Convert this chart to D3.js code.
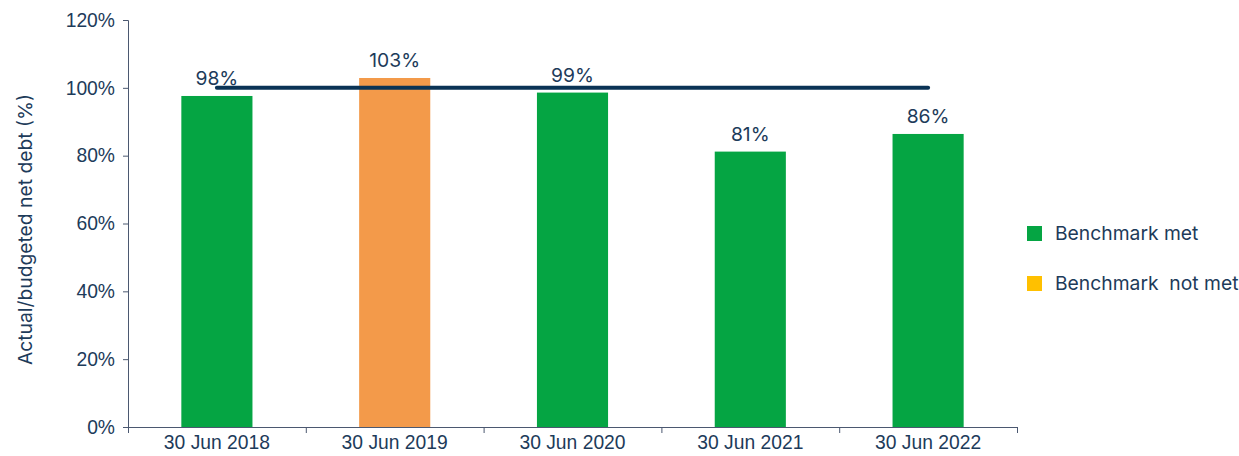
<!DOCTYPE html>
<html>
<head>
<meta charset="utf-8">
<script src="https://cdn.jsdelivr.net/npm/d3@7"></script>
<style>
  body { margin: 0; background: #fff; }
  svg { font-family: "Inter", sans-serif; }
</style>
</head>
<body>
<div id="chart"></div>
<script>
// chart data
const categories = ["30 Jun 2018", "30 Jun 2019", "30 Jun 2020", "30 Jun 2021", "30 Jun 2022"];
const values = [97.6, 102.9, 98.6, 81.2, 86.4];
const metBenchmark = [true, false, true, true, true];
const benchmark = 100;
const yTicks = [0, 20, 40, 60, 80, 100, 120];
const legendItems = ["Benchmark met", "Benchmark  not met"];

const W = 1239, H = 456;
const margin = { top: 20, right: 222, bottom: 29, left: 128 };
const width = W - margin.left - margin.right;
const height = H - margin.top - margin.bottom;
const fs = 19.3;

const navy = "#1d3b5a";
const axisCol = "#4b5870";

const svg = d3.select("#chart").append("svg")
    .attr("width", W)
    .attr("height", H);

const g = svg.append("g")
    .attr("transform", `translate(${margin.left},${margin.top})`);

const x = d3.scaleBand()
    .domain(categories)
    .range([0, width])
    .paddingInner(0.6)
    .paddingOuter(0.3);

const y = d3.scaleLinear()
    .domain([0, 120])
    .range([height, 0]);

// y axis
const yAxis = g.append("g")
    .call(d3.axisLeft(y).tickValues(yTicks).tickFormat(d => d + "%").tickSize(5).tickPadding(8));
yAxis.select(".domain").attr("stroke", axisCol);
yAxis.selectAll(".tick line").attr("stroke", axisCol);
yAxis.selectAll("text").attr("fill", navy).attr("font-size", fs);

// x axis: labels in the middle of each band, ticks at the band edges
const edge = d3.scaleLinear().domain([0, categories.length]).range([0, width]);
const xEdges = g.append("g")
    .attr("transform", `translate(0,${height})`)
    .call(d3.axisBottom(edge).tickValues(d3.range(categories.length + 1)).tickFormat("").tickSize(6).tickSizeOuter(0));
xEdges.select(".domain").attr("stroke", axisCol);
xEdges.selectAll(".tick line").attr("stroke", axisCol);

const xLabels = g.append("g")
    .attr("transform", `translate(0,${height})`)
    .call(d3.axisBottom(x).tickSize(0).tickPadding(8));
xLabels.select(".domain").remove();
xLabels.selectAll("text").attr("fill", navy).attr("font-size", fs);

// y axis title
svg.append("text")
    .attr("transform", `translate(32,${margin.top + height / 2 + 6}) rotate(-90)`)
    .attr("text-anchor", "middle")
    .attr("fill", navy)
    .attr("font-size", fs)
    .text("Actual/budgeted net debt (%)");

// bars
g.selectAll(".bar")
    .data(values)
    .join("rect")
    .attr("class", "bar")
    .attr("x", (d, i) => x(categories[i]))
    .attr("y", d => y(d))
    .attr("width", x.bandwidth())
    .attr("height", d => y(0) - y(d))
    .attr("fill", (d, i) => metBenchmark[i] ? "#05a543" : "#f39a4a");

// bar labels
g.selectAll(".lbl")
    .data(values)
    .join("text")
    .attr("class", "lbl")
    .attr("x", (d, i) => x(categories[i]) + x.bandwidth() / 2)
    .attr("y", d => y(d) - 11)
    .attr("text-anchor", "middle")
    .attr("fill", navy)
    .attr("font-size", fs)
    .text(d => Math.round(d) + "%");

// benchmark line
const c0 = x(categories[0]) + x.bandwidth() / 2;
const c1 = x(categories[categories.length - 1]) + x.bandwidth() / 2;
g.append("line")
    .attr("x1", c0).attr("x2", c1)
    .attr("y1", y(benchmark)).attr("y2", y(benchmark))
    .attr("stroke", "#0a3355")
    .attr("stroke-width", 4)
    .attr("stroke-linecap", "round");

// legend
const legendColors = ["#05a543", "#ffc000"];
const legend = svg.append("g").attr("transform", "translate(1027,226)");
legendItems.forEach((t, i) => {
    const row = legend.append("g").attr("transform", `translate(0,${i * 50})`);
    row.append("rect").attr("width", 15).attr("height", 15).attr("fill", legendColors[i]);
    row.append("text")
        .attr("x", 28).attr("y", 7.5)
        .attr("dy", "0.35em")
        .attr("fill", navy)
        .attr("font-size", fs)
        .style("white-space", "pre")
        .text(t);
});
</script>
</body>
</html>
